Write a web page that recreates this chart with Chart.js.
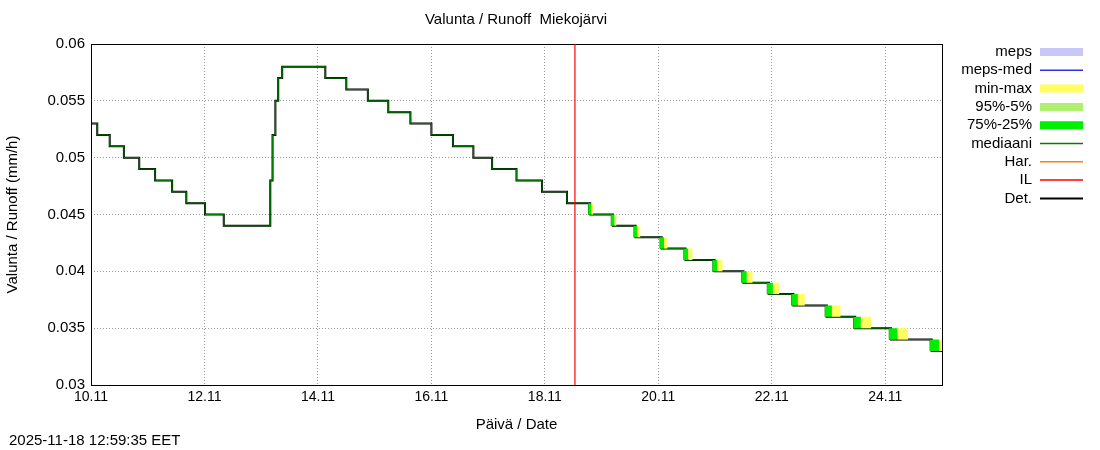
<!DOCTYPE html>
<html><head><meta charset="utf-8">
<script src="https://cdn.jsdelivr.net/npm/chart.js@4"></script>
<style>body{margin:0;background:#fff;font-family:"Liberation Sans",Arial,sans-serif}
#w{position:relative;width:1100px;height:450px}
#ts{position:absolute;left:9px;top:431px;font-size:15px;color:#000}</style></head>
<body><div id="w"><canvas id="c" width="1100" height="450"></canvas><div id="ts">2025-11-18 12:59:35 EET</div></div>
<script>
// x in days since 10.11 00:00
const stepDays = [0,0.11,0.33,0.58,0.85,1.13,1.43,1.68,2.01,2.34,3.16,3.2,3.25,3.3,3.37,3.46,4.13,4.50,4.88,5.24,5.63,6.0,6.38,6.74,7.07,7.5,7.95,8.39,8.8,9.2,9.6,10.06,10.48,10.99,11.5,11.95,12.38,12.97,13.47,14.1,14.82,15];
const stepValues = [0.053,0.052,0.051,0.050,0.049,0.048,0.047,0.046,0.045,0.044,0.048,0.052,0.055,0.057,0.058,0.058,0.057,0.056,0.055,0.054,0.053,0.052,0.051,0.050,0.049,0.048,0.047,0.046,0.045,0.044,0.043,0.042,0.041,0.040,0.039,0.038,0.037,0.036,0.035,0.034,0.033,0.033];
const forecastStart = 8.53;
// lag (days) of upper min-max and 75-25 envelopes for forecast drops
const maxLag = [0.05,0.06,0.08,0.1,0.12,0.14,0.16,0.18,0.2,0.24,0.28,0.3,0.32,0.3];
const iqrLag = [0.02,0.03,0.03,0.04,0.05,0.05,0.06,0.07,0.08,0.09,0.1,0.12,0.13,0.12];
const yTicks = [0.03,0.035,0.04,0.045,0.05,0.055,0.06];
const xTickLabels = ['10.11','12.11','14.11','16.11','18.11','20.11','22.11','24.11'];

function stepped(days, vals){const p=[];for(let i=0;i<days.length;i++){p.push({x:days[i],y:vals[i]});}return p;}
const det = stepped(stepDays, stepValues);
function envelope(lags){
  const d=[],v=[];let k=0;
  for(let i=0;i<stepDays.length;i++){
    if(stepDays[i]>forecastStart && i<stepDays.length-1 && k<lags.length){
      d.push(Math.min(stepDays[i]+lags[k],15));v.push(stepValues[i]);k++;
    } else {d.push(stepDays[i]);v.push(stepValues[i]);}
  }
  return stepped(d,v);
}
const maxEnv = envelope(maxLag), iqrEnv = envelope(iqrLag);
const lowEnv = stepped(stepDays.map((d,i)=>d>forecastStart&&i<stepDays.length-1?Math.max(d-0.03,forecastStart):d), stepValues);

const legendItems=[['meps','#c8c8f8',8],['meps-med','#3030e0',1.5],['min-max','#ffff60',8],['95%-5%','#b0f070',8],['75%-25%','#00ee00',8],['mediaani','#008000',1.5],['Har.','#ff8000',1.5],['IL','#ff0000',1.5],['Det.','#000000',2]];

const deco={id:'deco',afterDraw(ch){
  const c=ch.ctx,a=ch.chartArea;
  c.save();c.strokeStyle='#000';c.lineWidth=1;c.strokeRect(a.left+0.5,a.top+0.5,a.right-a.left,a.bottom-a.top);
  const xr=ch.scales.x.getPixelForValue(forecastStart);
  c.strokeStyle='rgb(255,0,0)';c.lineWidth=1.2;c.beginPath();c.moveTo(xr,a.top);c.lineTo(xr,a.bottom);c.stroke();
  c.fillStyle='#000';c.font='15px "Liberation Sans", Arial';c.textAlign='center';c.textBaseline='middle';
  c.fillText('Valunta / Runoff  Miekojärvi',516,20);
  c.textAlign='right';
  legendItems.forEach((it,i)=>{const y=52+i*18.3;c.fillStyle='#000';c.fillText(it[0],1032,y);
    c.strokeStyle=it[1];c.lineWidth=it[2];c.beginPath();c.moveTo(1040,y);c.lineTo(1083,y);c.stroke();});
  c.restore();
}};

new Chart(document.getElementById('c'),{
  type:'line',
  data:{datasets:[
    {data:maxEnv,borderColor:'#ffff60',borderWidth:0,pointRadius:0,stepped:true,fill:'+1',backgroundColor:'#ffff60'},
    {data:iqrEnv,borderColor:'#00ee00',borderWidth:0,pointRadius:0,stepped:true,fill:'+1',backgroundColor:'#00ee00'},
    {data:lowEnv,borderColor:'#008000',borderWidth:1,pointRadius:0,stepped:true,fill:false},
    {data:det,borderColor:'#000',borderWidth:2,pointRadius:0,stepped:true,fill:false}
  ]},
  options:{animation:false,responsive:false,devicePixelRatio:1,
    layout:{padding:{left:0,right:158,top:44,bottom:16}},
    plugins:{legend:{display:false},tooltip:{enabled:false},title:{display:false}},
    scales:{
      x:{type:'linear',min:0,max:15,
        afterBuildTicks:s=>{s.ticks=xTickLabels.map((l,i)=>({value:i*2}));},
        ticks:{callback:(v,i)=>xTickLabels[i],color:'#000',font:{size:14,family:'"Liberation Sans", Arial'},maxRotation:0,padding:4},
        grid:{color:'#999',drawTicks:false,tickLength:0},border:{display:false,dash:[1,2]},
        title:{display:true,text:'Päivä / Date',color:'#000',font:{size:15,family:'"Liberation Sans", Arial'},padding:{top:2,bottom:0}},
        afterFit:s=>{s.height=49;}},
      y:{min:0.03,max:0.06,
        afterBuildTicks:s=>{s.ticks=yTicks.map(v=>({value:v}));},
        ticks:{callback:v=>String(+v.toFixed(3)),color:'#000',font:{size:15,family:'"Liberation Sans", Arial'},padding:6},
        grid:{color:'#999',drawTicks:false},border:{display:false,dash:[1,2]},
        title:{display:true,text:'Valunta / Runoff (mm/h)',color:'#000',font:{size:15,family:'"Liberation Sans", Arial'},padding:{bottom:2}},
        afterFit:s=>{s.width=91;}}
    }},
  plugins:[deco]
});
</script></body></html>
